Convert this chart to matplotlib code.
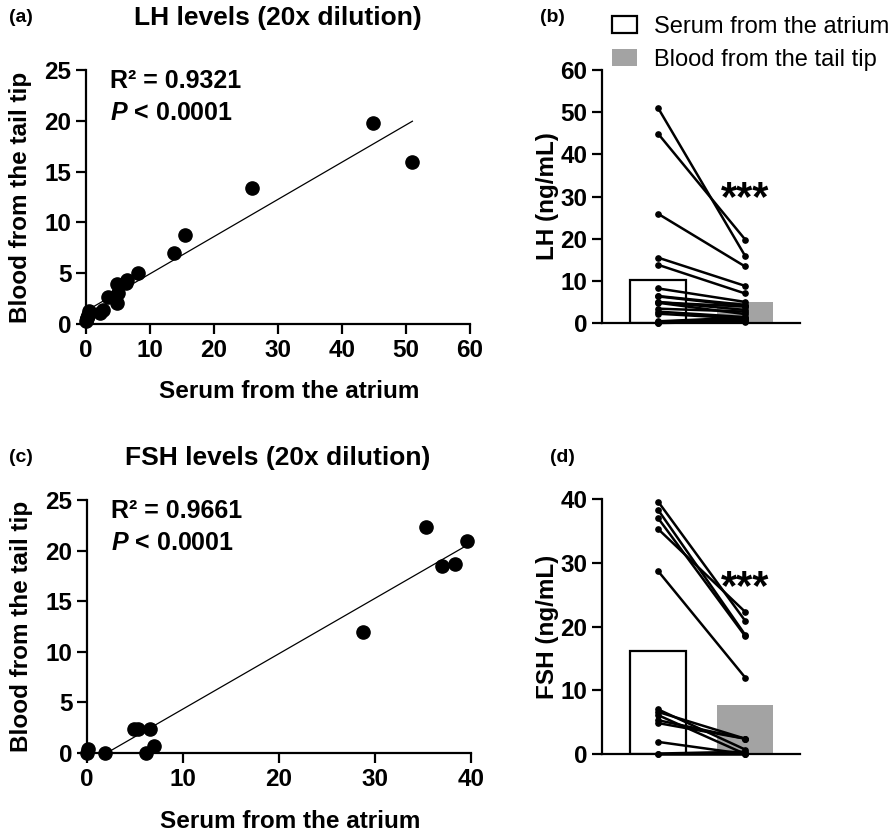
import numpy as np
import matplotlib
matplotlib.use("Agg")
import matplotlib.pyplot as plt

# --- data ---
# LH (ng/mL), paired samples: serum from the atrium vs blood from the tail tip
lh_serum = [51.0, 44.9, 25.9, 15.5, 13.8, 8.2, 6.4, 6.3, 4.9, 5.0,
            4.8, 3.4, 2.7, 2.2, 0.4, 0.1, 0.3, 0.2, 0.0]
lh_tail = [15.9, 19.8, 13.4, 8.8, 7.0, 5.0, 4.3, 4.0, 3.9, 3.1,
           2.1, 2.7, 1.4, 1.05, 1.3, 0.55, 0.9, 0.6, 0.3]

# FSH (ng/mL)
fsh_serum = [39.6, 38.3, 37.0, 35.3, 28.7, 7.0, 6.6, 6.1, 5.3, 4.85, 1.9, 0.07, 0.0]
fsh_tail = [20.9, 18.7, 18.5, 22.3, 12.0, 0.7, 2.4, 0.0, 2.4, 2.4, 0.0, 0.36, 0.0]

lh_stats = ["R\u00b2 = 0.9321", "$\\mathit{P}$ < 0.0001"]
fsh_stats = ["R\u00b2 = 0.9661", "$\\mathit{P}$ < 0.0001"]
group_labels = ["Serum from the atrium", "Blood from the tail tip"]

# --- style ---
plt.rcParams["font.family"] = "Liberation Sans"
plt.rcParams["font.weight"] = "bold"
plt.rcParams["axes.labelweight"] = "bold"
plt.rcParams["mathtext.fontset"] = "custom"
plt.rcParams["mathtext.it"] = "Liberation Sans:style=italic:weight=bold"
plt.rcParams["mathtext.rm"] = "Liberation Sans:weight=bold"

W, H = 894, 834
fig = plt.figure(figsize=(W / 100, H / 100), dpi=100)


def rect(x0, y_top, x1, y_bot):
    # pixel box -> figure fraction
    return [x0 / W, 1 - y_bot / H, (x1 - x0) / W, (y_bot - y_top) / H]


def ftext(x, y, s, **kw):
    fig.text(x / W, 1 - y / H, s, **kw)


def style_axes(ax):
    for s in ["top", "right"]:
        ax.spines[s].set_visible(False)
    for s in ["left", "bottom"]:
        ax.spines[s].set_linewidth(1.6)
    ax.tick_params(direction="out", length=7.5, width=1.6, labelsize=17.5, pad=3)


gray = "#a3a3a3"
fs_lab = 17.5


def scatter_panel(ax, x, y, xmax, xstep, stats, xlab_y):
    x = np.array(x)
    y = np.array(y)
    k, b = np.polyfit(x, y, 1)
    xx = np.array([x.min(), x.max()])
    ax.plot(xx, k * xx + b, color="black", lw=0.9)
    ax.plot(x, y, "o", color="black", ms=9.5, clip_on=False, zorder=3)
    ax.set_xlim(0, xmax)
    ax.set_ylim(0, 25)
    ax.set_xticks(np.arange(0, xmax + 1, xstep))
    ax.set_yticks(np.arange(0, 26, 5))
    style_axes(ax)
    ax.set_xlabel("Serum from the atrium", fontsize=fs_lab)
    ax.set_ylabel("Blood from the tail tip", fontsize=fs_lab)
    ax.xaxis.set_label_coords(0.53, xlab_y)
    ax.yaxis.set_label_coords(-0.14, 0.5)
    ax.text(0.063, 0.955, stats[0], transform=ax.transAxes, fontsize=18,
            va="center", ha="left")
    ax.text(0.063, 0.83, stats[1], transform=ax.transAxes, fontsize=18,
            va="center", ha="left")


def paired_panel(ax, a, b, ymax, ylabel, star_y):
    a = np.array(a)
    b = np.array(b)
    h1 = ax.bar(1, a.mean(), width=0.64, facecolor="white", edgecolor="black",
                lw=1.6, zorder=1)
    h2 = ax.bar(2, b.mean(), width=0.64, color=gray, lw=0, zorder=1)
    for v1, v2 in zip(a, b):
        ax.plot([1, 2], [v1, v2], color="black", lw=1.8, marker="o", ms=3.8,
                clip_on=False, zorder=3)
    ax.set_xlim(0.356, 2.63)
    ax.set_ylim(0, ymax)
    ax.set_xticks([])
    ax.set_yticks(np.arange(0, ymax + 1, 10))
    style_axes(ax)
    ax.set_ylabel(ylabel, fontsize=fs_lab)
    ax.yaxis.set_label_coords(-0.215, 0.5)
    ax.text(2.0, star_y, "***", fontsize=30, ha="center", va="center")
    return h1, h2


# (a) LH scatter
ax_a = fig.add_axes(rect(86, 70, 470, 324))
scatter_panel(ax_a, lh_serum, lh_tail, 60, 10, lh_stats, -0.22)

# (b) LH paired
ax_b = fig.add_axes(rect(602, 70, 800, 323))
h1, h2 = paired_panel(ax_b, lh_serum, lh_tail, 60, "LH (ng/mL)", 29.5)

# (c) FSH scatter
ax_c = fig.add_axes(rect(87, 500, 471, 753))
scatter_panel(ax_c, fsh_serum, fsh_tail, 40, 10, fsh_stats, -0.225)

# (d) FSH paired
ax_d = fig.add_axes(rect(602, 499, 800, 754))
paired_panel(ax_d, fsh_serum, fsh_tail, 40, "FSH (ng/mL)", 26.0)

# titles and panel letters
ftext(278, 18, "LH levels (20x dilution)", fontsize=19, ha="center", va="center")
ftext(278, 458, "FSH levels (20x dilution)", fontsize=19, ha="center", va="center")
ftext(9, 18, "(a)", fontsize=14, ha="left", va="center")
ftext(540, 18, "(b)", fontsize=14, ha="left", va="center")
ftext(9, 458, "(c)", fontsize=14, ha="left", va="center")
ftext(550, 458, "(d)", fontsize=14, ha="left", va="center")

fig.legend([h1, h2], group_labels, loc="upper left",
           bbox_to_anchor=(612 / W, 1 - 16 / H), frameon=False,
           prop={"weight": "normal", "size": 17}, handlelength=1.05,
           handleheight=0.7, handletextpad=0.75, labelspacing=0.45,
           borderpad=0.0, borderaxespad=0.0)

fig.savefig("out.png", dpi=100)
